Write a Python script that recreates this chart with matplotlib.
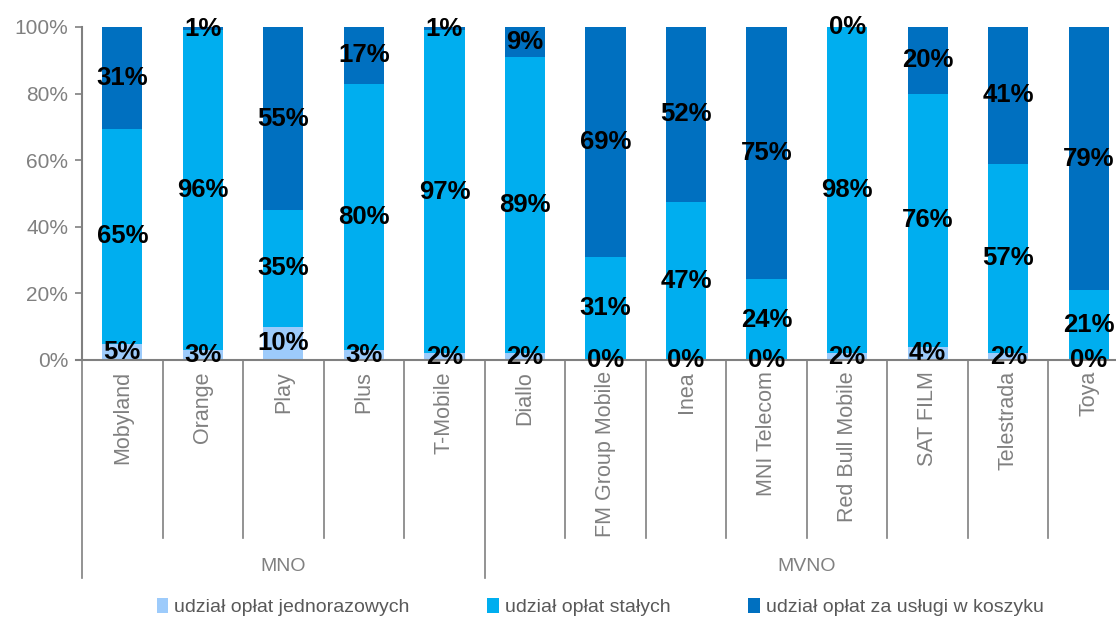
import numpy as np
import matplotlib.pyplot as plt
from matplotlib.patches import Patch
from matplotlib.ticker import PercentFormatter

categories = ['Mobyland', 'Orange', 'Play', 'Plus', 'T-Mobile', 'Diallo',
              'FM Group Mobile', 'Inea', 'MNI Telecom', 'Red Bull Mobile',
              'SAT FILM', 'Telestrada', 'Toya']
groups = ['MNO', 'MVNO']
group_sizes = [5, 8]

one_off = [5, 3, 10, 3, 2, 2, 0, 0, 0, 2, 4, 2, 0]
fixed = [65, 96, 35, 80, 97, 89, 31, 47, 24, 98, 76, 57, 21]
basket = [31, 1, 55, 17, 1, 9, 69, 52, 75, 0, 20, 41, 79]

series_names = ['udział opłat jednorazowych', 'udział opłat stałych',
                'udział opłat za usługi w koszyku']
colors = ['#9DCBFB', '#00AEEF', '#0070C0']

plt.rcParams['font.family'] = ['Liberation Sans', 'DejaVu Sans']
gray = '#808080'

data = np.array([one_off, fixed, basket], dtype=float)
shares = data / data.sum(axis=0)

fig = plt.figure(figsize=(11.16, 6.17), dpi=100)
W, H = 1116, 617
ax = fig.add_axes([82 / W, 1 - 360 / H, (1129 - 82) / W, 333 / H])

x = np.arange(len(categories))
bottom = np.zeros(len(categories))
for i in range(3):
    ax.bar(x, shares[i], 0.5, bottom=bottom, color=colors[i], label=series_names[i])
    for j in range(len(categories)):
        ax.text(x[j], bottom[j] + shares[i][j] / 2, '%d%%' % data[i][j],
                ha='center', va='center', fontsize=18.5, fontweight='bold', color='black')
    bottom += shares[i]

ax.set_xlim(-0.5, len(categories) - 0.5)
ax.set_ylim(0, 1)
ax.yaxis.set_major_locator(plt.MultipleLocator(0.2))
ax.yaxis.set_major_formatter(PercentFormatter(1.0, decimals=0))
ax.tick_params(axis='y', colors=gray, labelsize=15, length=5, width=1.2, direction='out', pad=5)
ax.set_xticks(x)
ax.set_xticklabels(categories, rotation=90, va='top', ha='center', fontsize=15.5, color=gray)
ax.tick_params(axis='x', length=0, pad=8)

for s in ['top', 'right']:
    ax.spines[s].set_visible(False)
for s in ['left', 'bottom']:
    ax.spines[s].set_color(gray)
    ax.spines[s].set_linewidth(1.5)
ax.spines['bottom'].set_bounds(-0.575, len(categories) - 0.5)

# category separators and group separators below the axis
trans = ax.get_xaxis_transform()
edges = [-0.5] + list(np.cumsum(group_sizes) - 0.5)
for k in range(len(categories) + 1):
    xs = k - 0.5
    y_end = -0.655 if xs in edges else -0.535
    ax.plot([xs, xs], [0, y_end], color=gray, lw=1.2, transform=trans, clip_on=False)

start = 0
for g, n in zip(groups, group_sizes):
    ax.text(start + (n - 1) / 2, -0.62, g, transform=trans, ha='center', va='center',
            fontsize=14, color=gray)
    start += n

handles = [Patch(facecolor=c, edgecolor='none') for c in colors]
fig.legend(handles, series_names, loc='center', bbox_to_anchor=(600 / W, 1 - 607 / H),
           ncol=3, frameon=False, handlelength=0.6, handleheight=0.8, handletextpad=0.3,
           columnspacing=4.0, prop={'size': 14}, labelcolor='#595959')

fig.savefig('out.png', dpi=100)
